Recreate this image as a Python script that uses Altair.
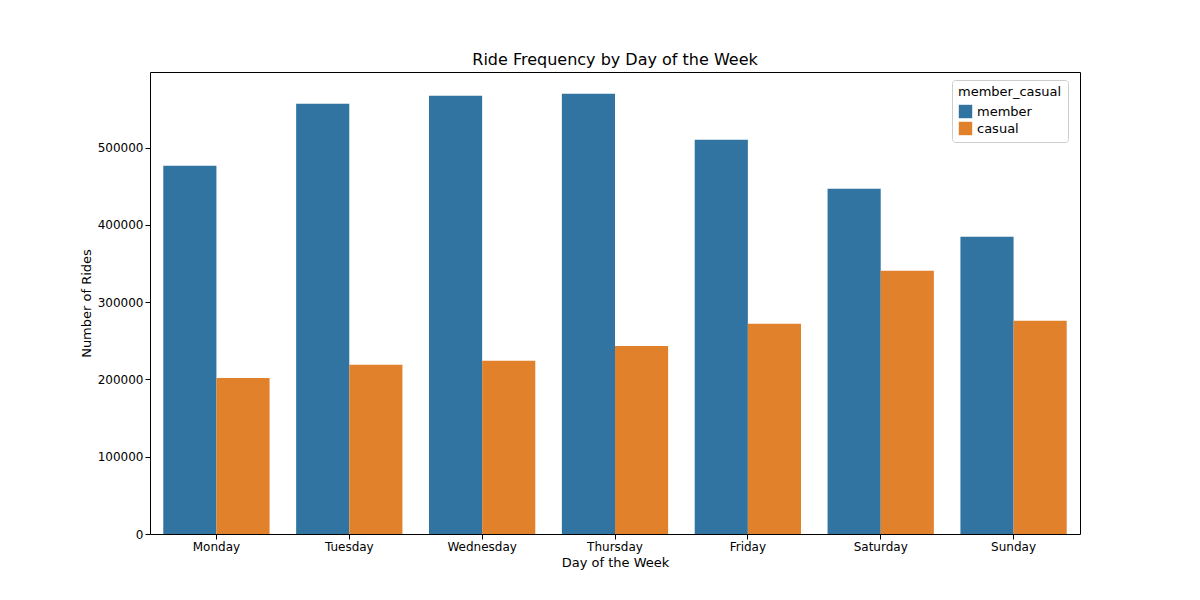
import altair as alt
import pandas as pd

days = ["Monday", "Tuesday", "Wednesday", "Thursday", "Friday", "Saturday", "Sunday"]
member = [476700, 557000, 567400, 570000, 510400, 446900, 384700]
casual = [202000, 219000, 224100, 243500, 272000, 340700, 275900]

rows = []
for d, m, c in zip(days, member, casual):
    rows.append({"day": d, "member_casual": "member", "rides": m, "order": 0})
    rows.append({"day": d, "member_casual": "casual", "rides": c, "order": 1})
df = pd.DataFrame(rows)

chart = alt.Chart(df).mark_bar().encode(
    x=alt.X("day:N", sort=days, title="Day of the Week",
            scale=alt.Scale(paddingInner=0.2, paddingOuter=0.1),
            axis=alt.Axis(labelAngle=0)),
    xOffset=alt.XOffset("order:O"),
    y=alt.Y("rides:Q", title="Number of Rides",
            scale=alt.Scale(domain=[0, 598000], nice=False),
            axis=alt.Axis(format="d", values=[0, 100000, 200000, 300000, 400000, 500000])),
    color=alt.Color("member_casual:N", sort=["member", "casual"],
                    scale=alt.Scale(domain=["member", "casual"], range=["#3274a1", "#e1812c"]),
                    legend=alt.Legend(orient="none", legendX=802, legendY=8, symbolType="square",
                                      symbolSize=180, strokeColor="#cccccc", padding=6,
                                      cornerRadius=3, fillColor="white", labelFontSize=13,
                                      titleFontSize=13, titleFontWeight="normal")),
).properties(
    width=930, height=462,
    title=alt.Title("Ride Frequency by Day of the Week", fontSize=16, fontWeight="normal"),
    autosize=alt.AutoSizeParams(type="none"),
    padding={"left": 142, "top": 64, "right": 100, "bottom": 60},
).configure(font="DejaVu Sans").configure_view(stroke="black", strokeWidth=1).configure_axis(
    grid=False, domain=False, labelFontSize=12, titleFontSize=13, titleFontWeight="normal",
    tickColor="black", labelColor="black", titleColor="black"
)

chart.save("out.html", embed_options={"renderer": "svg", "actions": False})
